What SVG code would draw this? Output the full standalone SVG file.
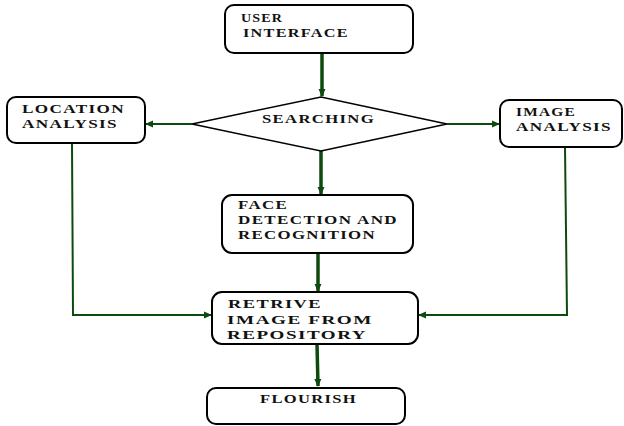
<svg xmlns="http://www.w3.org/2000/svg" width="624" height="426" viewBox="0 0 624 426">
<defs>
<marker id="ah" markerWidth="8" markerHeight="8" refX="7" refY="4" orient="auto" markerUnits="userSpaceOnUse">
<path d="M0,0.5 L8,4 L0,7.5 Z" fill="#0d4a0d"/>
</marker>
<style>
.box{fill:#fff;stroke:#000;stroke-width:2}
.t{font-family:"Liberation Serif","Times New Roman",serif;font-weight:bold;font-size:12.5px;fill:#111;letter-spacing:1px}
.c{fill:none;stroke:#0d4a0d;stroke-width:2}
.c3{fill:none;stroke:#0d4a0d;stroke-width:3.5}
</style>
</defs>
<rect width="624" height="426" fill="#fff"/>
<g id="connectors">
<line class="c3" x1="322" y1="53" x2="322" y2="96" marker-end="url(#ah)"/>
<line class="c" x1="192" y1="124" x2="146" y2="124" marker-end="url(#ah)"/>
<line class="c" x1="447" y1="124" x2="499" y2="124" marker-end="url(#ah)"/>
<line class="c3" x1="321" y1="151" x2="321" y2="194" marker-end="url(#ah)"/>
<line class="c3" x1="318" y1="253" x2="318" y2="291" marker-end="url(#ah)"/>
<line class="c3" x1="317" y1="344" x2="318" y2="386" marker-end="url(#ah)"/>
<polyline class="c" points="72,143 73,315 211,315" marker-end="url(#ah)"/>
<polyline class="c" points="565,147 567,315 419,315" marker-end="url(#ah)"/>
</g>
<g id="user-interface">
<rect class="box" x="225" y="5" width="188" height="48" rx="9"/>
<text class="t" x="241" y="22" textLength="42" lengthAdjust="spacingAndGlyphs">USER</text>
<text class="t" x="243" y="37" textLength="106" lengthAdjust="spacingAndGlyphs">INTERFACE</text>
</g>
<g id="searching">
<polygon points="192,124 321,97 447,124 321,151" fill="#fff" stroke="#000" stroke-width="1.5"/>
<text class="t" x="262" y="123" textLength="113" lengthAdjust="spacingAndGlyphs">SEARCHING</text>
</g>
<g id="location-analysis">
<rect class="box" x="7" y="97" width="138" height="46" rx="9"/>
<text class="t" x="22" y="113" textLength="103" lengthAdjust="spacingAndGlyphs">LOCATION</text>
<text class="t" x="22" y="128" textLength="96" lengthAdjust="spacingAndGlyphs">ANALYSIS</text>
</g>
<g id="image-analysis">
<rect class="box" x="500" y="100" width="122" height="47" rx="9"/>
<text class="t" x="516" y="116" textLength="60" lengthAdjust="spacingAndGlyphs">IMAGE</text>
<text class="t" x="516" y="131" textLength="96" lengthAdjust="spacingAndGlyphs">ANALYSIS</text>
</g>
<g id="face-detection">
<rect class="box" x="222" y="195" width="191" height="58" rx="10"/>
<text class="t" x="238" y="209" textLength="50" lengthAdjust="spacingAndGlyphs">FACE</text>
<text class="t" x="238" y="224" textLength="160" lengthAdjust="spacingAndGlyphs">DETECTION AND</text>
<text class="t" x="238" y="239" textLength="138" lengthAdjust="spacingAndGlyphs">RECOGNITION</text>
</g>
<g id="retrive-image">
<rect class="box" x="212" y="292" width="206" height="52" rx="10"/>
<text class="t" x="228" y="308" textLength="94" lengthAdjust="spacingAndGlyphs">RETRIVE</text>
<text class="t" x="227" y="324" textLength="146" lengthAdjust="spacingAndGlyphs">IMAGE FROM</text>
<text class="t" x="227" y="339" textLength="140" lengthAdjust="spacingAndGlyphs">REPOSITORY</text>
</g>
<g id="flourish">
<rect class="box" x="207" y="388" width="198" height="36" rx="9"/>
<text class="t" x="260" y="403" textLength="97" lengthAdjust="spacingAndGlyphs">FLOURISH</text>
</g>
</svg>
